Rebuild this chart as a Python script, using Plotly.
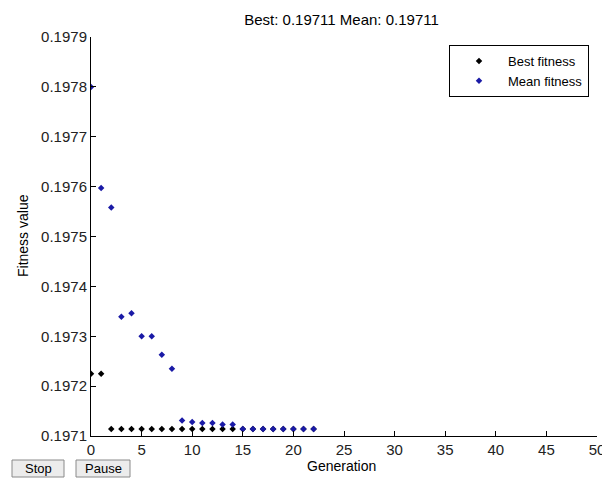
import plotly.graph_objects as go

generations = list(range(23))
best_fitness = [0.197225, 0.197225] + [0.197114] * 21
mean_fitness = [0.197800, 0.197597, 0.197558, 0.197339, 0.197346, 0.197300,
                0.197300, 0.197263, 0.197235, 0.197131, 0.197128, 0.197126,
                0.197126, 0.197123, 0.197123] + [0.197114] * 8
title_text = "Best: 0.19711 Mean: 0.19711"

FONT = "Liberation Sans, Arial, sans-serif"

fig = go.Figure()
fig.add_trace(go.Scatter(x=generations, y=best_fitness, mode="markers",
                         name="Best fitness",
                         marker=dict(symbol="diamond", size=5, color="black")))
fig.add_trace(go.Scatter(x=generations, y=mean_fitness, mode="markers",
                         name="Mean fitness",
                         marker=dict(symbol="diamond", size=5, color="#1a1aa6")))

# The page body adds an 8px offset; work in reference pixels and shift.
OFF = 8
W, H = 610 - OFF, 478 - OFF
L, R, T, B = 91 - OFF, 13, 37 - OFF, 42
pw, ph = W - L - R, H - T - B

def px(x):
    return (x - OFF - L) / pw

def py(y):
    return (H - B - (y - OFF)) / ph

shapes = []
annotations = []
for label, x0, x1 in [("Stop", 12, 64), ("Pause", 76, 130)]:
    shapes.append(dict(type="rect", xref="paper", yref="paper",
                       x0=px(x0), x1=px(x1), y0=py(477), y1=py(460),
                       line=dict(color="#8a8a8a", width=1), fillcolor="#ececec"))
    annotations.append(dict(text=label, xref="paper", yref="paper",
                            x=px((x0 + x1) / 2), y=py(468.5), showarrow=False,
                            xanchor="center", yanchor="middle",
                            font=dict(family=FONT, size=13, color="black")))

annotations.append(dict(text="Generation", xref="paper", yref="paper",
                        x=px(341), y=py(466), showarrow=False,
                        xanchor="center", yanchor="middle",
                        font=dict(family=FONT, size=14, color="black")))
annotations.append(dict(text="Fitness value", xref="paper", yref="paper",
                        x=px(23), y=py(236), showarrow=False, textangle=-90,
                        xanchor="center", yanchor="middle",
                        font=dict(family=FONT, size=14, color="black")))

fig.update_layout(
    width=W, height=H,
    margin=dict(l=L, r=R, t=T, b=B, autoexpand=False),
    paper_bgcolor="white", plot_bgcolor="white",
    font=dict(family=FONT, size=14, color="#222222"),
    title=dict(text=title_text, xref="paper", x=px(341.5), xanchor="center",
               yref="container", y=1 - (20 - OFF) / H, yanchor="middle",
               font=dict(family=FONT, size=15, color="black")),
    showlegend=True,
    legend=dict(x=px(589), y=py(45), xanchor="right", yanchor="top",
                bgcolor="white", bordercolor="black", borderwidth=1,
                font=dict(family=FONT, size=13, color="black"),
                itemwidth=48, tracegroupgap=0),
    shapes=shapes,
    annotations=annotations,
)
fig.update_xaxes(range=[0, 50], dtick=5, tick0=0, ticks="inside", ticklen=5,
                 showline=True, linecolor="black", linewidth=1, tickcolor="black",
                 showgrid=False, zeroline=False, mirror=False, automargin=False,
                 tickfont=dict(family=FONT, size=15, color="#222222"))
fig.update_yaxes(range=[0.1971, 0.1979], dtick=0.0001, tick0=0.1971,
                 tickformat=".4f", ticks="inside", ticklen=5,
                 showline=True, linecolor="black", linewidth=1, tickcolor="black",
                 showgrid=False, zeroline=False, mirror=False, automargin=False,
                 tickfont=dict(family=FONT, size=15, color="#222222"))

fig.write_html("out.html")
